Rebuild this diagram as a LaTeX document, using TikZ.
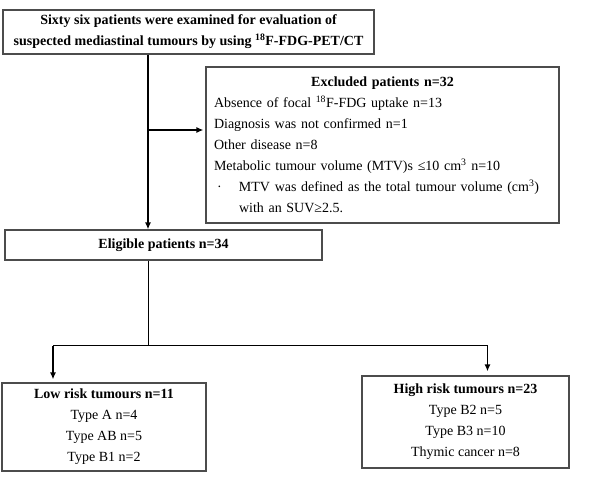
\documentclass[tikz,border=0pt]{standalone}
\usepackage{fontspec}
\setmainfont{Liberation Serif}
\usetikzlibrary{arrows.meta}

\tikzset{
  frame/.style={draw=black!70, line width=1.1pt, inner sep=0pt,
    font=\fontsize{14}{21}\selectfont},
  box/.style={frame, align=center},
  arr/.style={line width=1.4pt, -{Latex[length=7pt,width=6pt]}},
}

\begin{document}
\begin{tikzpicture}[x=1pt,y=1pt]
  \useasboundingbox (0,0) rectangle (590,-489);

  % Draw the boxes
  \node[box, font=\fontsize{14}{21}\selectfont\bfseries, minimum width=371, minimum height=44] (exam) at (188.5,-32)
    {Sixty six patients were examined for evaluation of\\suspected mediastinal tumours by using \textsuperscript{18}F-FDG-PET/CT};
  \node[frame, text width=337, inner xsep=8pt, minimum height=156] (excl) at (382.5,-145)
    {\parindent=0pt{\centering\bfseries Excluded patients n=32\par}
     \raggedright
     Absence of focal \textsuperscript{18}F-FDG uptake n=13\par
     Diagnosis was not confirmed n=1\par
     Other disease n=8\par
     Metabolic tumour volume (MTV)s ≤10 cm\textsuperscript{3} n=10\par
     \hangindent=25pt\hangafter=1\hspace*{3pt}\makebox[22pt][l]{·}MTV was defined as the total tumour volume (cm\textsuperscript{3})\newline with an SUV≥2.5.\par};
  \node[box, font=\fontsize{14}{21}\selectfont\bfseries, minimum width=317, minimum height=30] (elig) at (163.5,-245)
    {Eligible patients n=34};
  \node[box, minimum width=204, minimum height=88] (low) at (104,-427)
    {\textbf{Low risk tumours n=11}\\Type A n=4\\Type AB n=5\\Type B1 n=2};
  \node[box, minimum width=207, minimum height=92] (high) at (465.5,-422)
    {\textbf{High risk tumours n=23}\\Type B2 n=5\\Type B3 n=10\\Thymic cancer n=8};

  % Draw the connectors
  \coordinate (split) at (148,-130);
  \coordinate (fork) at (148,-346);
  \coordinate (lowin) at ([xshift=-51pt]low.north);
  \coordinate (highin) at ([xshift=22pt]high.north);
  \draw[arr] (exam.south -| split) -- (elig.north -| split);
  \draw[arr, shorten >=2pt] (split) -- (excl.west |- split);
  \draw[line width=1pt] (elig.south -| fork) -- (fork);
  \draw[line width=1pt] (lowin |- fork) -- (highin |- fork);
  \draw[arr, shorten >=3pt] (lowin |- fork) -- (lowin);
  \draw[arr, shorten >=4pt] (highin |- fork) -- (highin);
\end{tikzpicture}
\end{document}
